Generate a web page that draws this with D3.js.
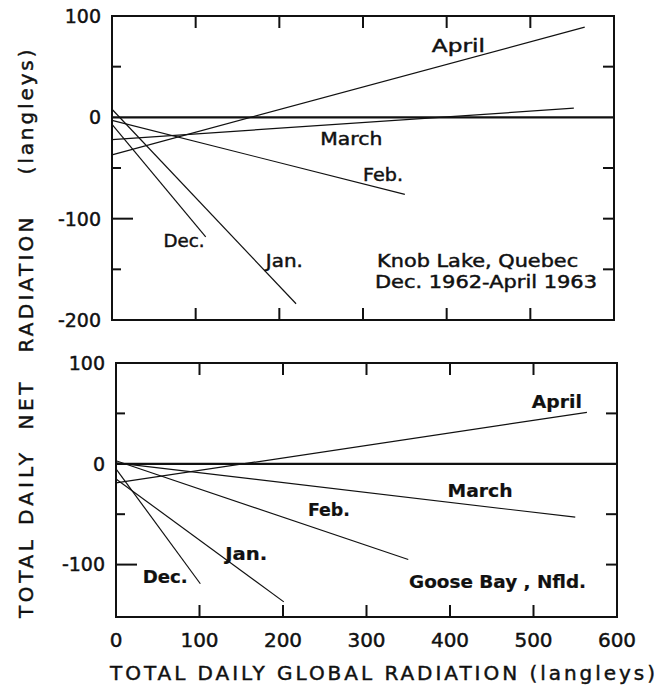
<!DOCTYPE html>
<html>
<head>
<meta charset="utf-8">
<script src="https://cdn.jsdelivr.net/npm/d3@7"></script>
<style>
  body { margin: 0; background: #fff; }
  text { font-family: "DejaVu Sans", sans-serif; fill: #111; stroke: #111; stroke-width: 0.45px; }
  text.heavy { stroke-width: 0.2px; }
</style>
</head>
<body>
<div id="chart"></div>
<script>
// regression lines, net vs global radiation (langleys)
const months = ["Dec.", "Jan.", "Feb.", "March", "April"];

// Knob Lake, Quebec
const knobStartY = [-7, 8, -3, -22, -37];
const knobEndX = [112, 220, 350, 552, 565];
const knobEndY = [-118, -184, -76, 9, 89];

// Goose Bay, Nfld.
const gooseStartY = [-5, -15, 3, 1, -19];
const gooseEndX = [101, 201, 350, 550, 564];
const gooseEndY = [-119, -137, -95, -53, 51];

const xTicks = [0, 100, 200, 300, 400, 500, 600];
const yTicksTop = [100, 0, -100, -200];
const yTicksBottom = [100, 0, -100];

const W = 660, H = 685;
const svg = d3.select("#chart").append("svg")
    .attr("width", W)
    .attr("height", H);

function panel(opts) {
    const x = d3.scaleLinear().domain([0, 600]).range(opts.xRange);
    const y = d3.scaleLinear().domain(opts.yDomain).range(opts.yRange);
    const g = svg.append("g");
    const [x0, x1] = opts.xRange;
    const [yb, yt] = opts.yRange;

    // frame
    g.append("rect")
        .attr("x", x0).attr("y", yt)
        .attr("width", x1 - x0).attr("height", yb - yt)
        .attr("fill", "none")
        .attr("stroke", "#111")
        .attr("stroke-width", 2);

    // zero line
    g.append("line")
        .attr("x1", x0).attr("x2", x1)
        .attr("y1", y(0)).attr("y2", y(0))
        .attr("stroke", "#111")
        .attr("stroke-width", 2.2);

    // top / bottom ticks pointing inward
    const inner = [100, 200, 300, 400, 500];
    g.selectAll(".tt").data(inner).enter().append("line")
        .attr("x1", d => x(d)).attr("x2", d => x(d))
        .attr("y1", yt).attr("y2", yt + 12)
        .attr("stroke", "#111").attr("stroke-width", 2);
    g.selectAll(".tb").data(inner).enter().append("line")
        .attr("x1", d => x(d)).attr("x2", d => x(d))
        .attr("y1", yb).attr("y2", yb - 12)
        .attr("stroke", "#111").attr("stroke-width", 2);

    // left ticks: long at labelled values, short at the 50s
    g.selectAll(".tl").data(opts.leftTicks).enter().append("line")
        .attr("x1", x0).attr("x2", d => x0 + (d % 100 === 0 ? 21 : 9))
        .attr("y1", d => y(d)).attr("y2", d => y(d))
        .attr("stroke", "#111").attr("stroke-width", 2);
    // right ticks
    g.selectAll(".tr").data(opts.rightTicks).enter().append("line")
        .attr("x1", x1).attr("x2", x1 - 11)
        .attr("y1", d => y(d)).attr("y2", d => y(d))
        .attr("stroke", "#111").attr("stroke-width", 2);

    // y tick labels
    g.selectAll(".yl").data(opts.yLabels).enter().append("text")
        .attr("x", x0 - 11)
        .attr("y", d => y(d))
        .attr("dy", "0.36em")
        .attr("text-anchor", "end")
        .style("font-size", "19px")
        .text(d => d);

    // regression lines
    const lines = months.map((m, i) => ({
        m: m,
        x1: 0, y1: opts.startY[i],
        x2: opts.endX[i], y2: opts.endY[i]
    }));
    g.selectAll(".reg").data(lines).enter().append("line")
        .attr("x1", d => x(d.x1)).attr("y1", d => y(d.y1))
        .attr("x2", d => x(d.x2)).attr("y2", d => y(d.y2))
        .attr("stroke", "#111")
        .attr("stroke-width", 1.2);

    // month + station labels
    g.selectAll(".lab").data(opts.labels).enter().append("text")
        .attr("class", opts.weight === "bold" ? "heavy" : null)
        .attr("x", d => x(d.x))
        .attr("y", d => y(d.y))
        .attr("text-anchor", "middle")
        .style("font-size", "17px")
        .style("font-weight", opts.weight)
        .attr("textLength", d => d.len)
        .attr("lengthAdjust", "spacingAndGlyphs")
        .text(d => d.t);

    return x;
}

// Knob Lake panel
panel({
    xRange: [112, 614],
    yDomain: [-200, 100],
    yRange: [320, 16],
    leftTicks: [50, -50, -100, -150],
    rightTicks: [50, -50, -100, -150],
    yLabels: yTicksTop,
    startY: knobStartY, endX: knobEndX, endY: knobEndY,
    weight: "normal",
    labels: [
        { t: "April", x: 414, y: 64, len: 53 },
        { t: "March", x: 286, y: -27, len: 62 },
        { t: "Feb.", x: 324, y: -63, len: 40 },
        { t: "Dec.", x: 86, y: -128, len: 41 },
        { t: "Jan.", x: 206, y: -148, len: 37 },
        { t: "Knob Lake, Quebec", x: 437, y: -148, len: 201 },
        { t: "Dec. 1962-April 1963", x: 447, y: -168, len: 222 }
    ]
});

// Goose Bay panel
const xb = panel({
    xRange: [116, 617],
    yDomain: [-152, 100],
    yRange: [617, 363],
    leftTicks: [50, -50, -100],
    rightTicks: [50, -50, -100],
    yLabels: yTicksBottom,
    startY: gooseStartY, endX: gooseEndX, endY: gooseEndY,
    weight: "bold",
    labels: [
        { t: "April", x: 528, y: 55, len: 50 },
        { t: "March", x: 436, y: -33, len: 65 },
        { t: "Feb.", x: 255, y: -52, len: 42 },
        { t: "Jan.", x: 156, y: -95, len: 42 },
        { t: "Dec.", x: 59, y: -118, len: 45 },
        { t: "Goose Bay , Nfld.", x: 457, y: -123, len: 177 }
    ]
});

// x tick labels
svg.selectAll(".xl").data(xTicks).enter().append("text")
    .attr("x", d => xb(d))
    .attr("y", 647)
    .attr("text-anchor", "middle")
    .style("font-size", "20px")
    .text(d => d);

// x axis title
svg.append("text")
    .attr("x", 110)
    .attr("y", 680)
    .attr("textLength", 545)
    .attr("lengthAdjust", "spacing")
    .style("font-size", "20px")
    .text("TOTAL DAILY GLOBAL RADIATION (langleys)");

// y axis title, split into words as in the original
const yTitle = [
    { t: "TOTAL", c: 579, len: 78 },
    { t: "DAILY", c: 489, len: 72 },
    { t: "NET", c: 406, len: 47 },
    { t: "RADIATION", c: 285, len: 135 },
    { t: "(langleys)", c: 112, len: 125 }
];
svg.selectAll(".yt").data(yTitle).enter().append("text")
    .attr("transform", d => `translate(33, ${d.c}) rotate(-90)`)
    .attr("text-anchor", "middle")
    .attr("textLength", d => d.len)
    .attr("lengthAdjust", "spacing")
    .style("font-size", "20px")
    .text(d => d.t);
</script>
</body>
</html>
